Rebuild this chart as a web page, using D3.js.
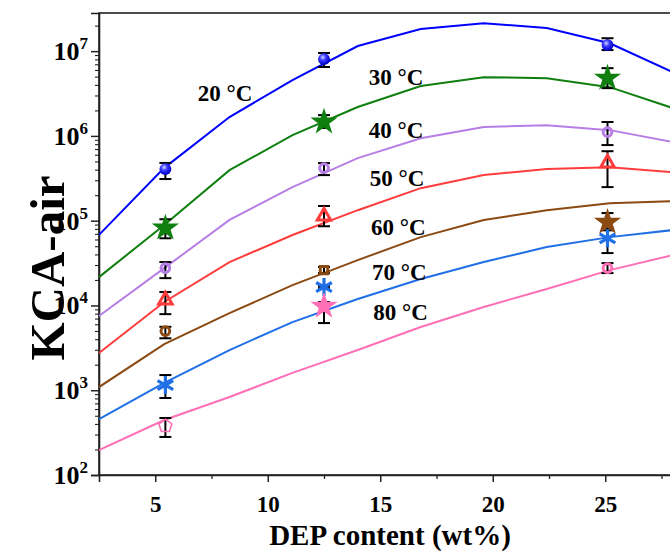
<html>
<meta charset="utf-8" />
<head>
<style>
body { margin: 0; background: #fff; }
svg { display: block; }
svg text { font-family: "Liberation Serif", "Times New Roman", serif; font-weight: bold; fill: #000; }
</style>
<script src="https://cdn.jsdelivr.net/npm/d3@7/dist/d3.min.js"></script>
</head>
<body>
<svg class="chart"></svg>
<script>
var chartWidth = 670;
var chartHeight = 553;

/********
 * Data *
 ********/

var temps = ["20 °C", "30 °C", "40 °C", "50 °C", "60 °C", "70 °C", "80 °C"];

// measured points (DEP wt%)
var depMeasured = [5.45, 12.5, 25.1];
var kMeasured = [
  [4.06e5, 8.05e6, 1.18e7],
  [8.2e4, 1.46e6, 4.81e6],
  [2.76e4, 4.17e5, 1.11e6],
  [1.16e4, 1.13e5, 4.78e5],
  [4.99e3, 2.61e4, 9.6e4],
  [1.15e3, 1.65e4, 6.2e4],
  [378, 9.8e3, 2.76e4]
];
var kErrLow = [
  [3.1e5, 6.5e6, 1.03e7],
  [6.2e4, 1.24e6, 3.66e6],
  [2.1e4, 3.45e5, 7.8e5],
  [7.9e3, 8.6e4, 2.49e5],
  [4.1e3, 2.41e4, 7.7e4],
  [810, 1.6e4, 4.15e4],
  [281, 6.2e3, 2.41e4]
];
var kErrHigh = [
  [4.8e5, 9.5e6, 1.42e7],
  [1.04e5, 1.76e6, 6.3e6],
  [3.25e4, 4.78e5, 1.46e6],
  [1.44e4, 1.49e5, 6.6e5],
  [5.6e3, 2.84e4, 1.23e5],
  [1.51e3, 1.7e4, 8.2e4],
  [470, 1.1e4, 3.16e4]
];

// model curves
var depModel = [2.5, 5.4, 8.3, 11.1, 14.0, 16.8, 19.6, 22.4, 25.2, 28.0];
var kModel = [
  [6.8e4, 4.2e5, 1.67e6, 4.55e6, 1.15e7, 1.82e7, 2.14e7, 1.87e7, 1.24e7, 5.65e6],
  [2.16e4, 8.9e4, 3.95e5, 1.02e6, 2.19e6, 3.87e6, 4.93e6, 4.8e6, 3.76e6, 2.13e6],
  [7.5e3, 2.76e4, 1.02e5, 2.49e5, 5.47e5, 9.4e5, 1.27e6, 1.34e6, 1.17e6, 8.45e5],
  [2.75e3, 1.1e4, 3.25e4, 6.77e4, 1.33e5, 2.42e5, 3.45e5, 4.06e5, 4.28e5, 3.74e5],
  [1.09e3, 3.5e3, 8.1e3, 1.74e4, 3.43e4, 6.4e4, 1.02e5, 1.33e5, 1.61e5, 1.7e5],
  [457, 1.22e3, 2.98e3, 6.37e3, 1.19e4, 2.05e4, 3.25e4, 4.88e4, 6.4e4, 7.75e4],
  [197, 445, 832, 1.6e3, 2.98e3, 5.56e3, 9.6e3, 1.56e4, 2.61e4, 3.93e4]
];

var xTicks = [5, 10, 15, 20, 25];
var yTicks = [1e2, 1e3, 1e4, 1e5, 1e6, 1e7];

/**********
 * Styles *
 **********/

var colors = ["#0000ff", "#0f7f0f", "#b77ee6", "#ff3c3c", "#8b4a12", "#1f6fe6", "#ff6fb5"];
var shapes = [
  ["ball", "ball", "ball"],
  ["star", "star", "star"],
  ["ring", "ring", "ring"],
  ["tri", "tri", "tri"],
  ["ring", "square", "star"],
  ["ast", "ast", "ast"],
  ["penta", "star", "ring"]
];
// label anchor: [dep, k]
var labelPos = [[8.1, 3.2e6], [15.7, 4.95e6], [15.7, 1.17e6], [15.75, 3.19e5], [15.8, 8.4e4], [15.85, 2.48e4], [15.9, 8.4e3]];

/**********
 * Scales *
 **********/

var x = d3.scaleLinear().domain([2.5, 28]).range([99, 672.75]);
var y = d3.scaleLog().domain([100, Math.pow(10, 7.45)]).range([475, 13]);

var svg = d3.select(".chart")
    .attr("width", chartWidth)
    .attr("height", chartHeight);

var defs = svg.append("defs");
defs.append("clipPath").attr("id", "plotclip")
  .append("rect").attr("x", 99).attr("y", 13).attr("width", 580).attr("height", 462);
var grad = defs.append("radialGradient").attr("id", "ballgrad")
    .attr("cx", "40%").attr("cy", "35%").attr("r", "60%");
grad.append("stop").attr("offset", "0%").attr("stop-color", "#cfd6ff");
grad.append("stop").attr("offset", "45%").attr("stop-color", "#3a3aff");
grad.append("stop").attr("offset", "100%").attr("stop-color", "#0000c8");

// frame
svg.append("rect")
    .attr("x", 99).attr("y", 13)
    .attr("width", 672.75 - 99).attr("height", 462)
    .attr("fill", "none").attr("stroke", "#222").attr("stroke-width", 1.6);

/********
 * Axes *
 ********/

var xAxis = d3.axisBottom(x).tickValues(xTicks).tickSize(7).tickFormat(d3.format("d"));
var xAxisG = svg.append("g")
    .attr("transform", "translate(0,475)")
    .call(xAxis);
xAxisG.select(".domain").attr("stroke", "#222").attr("stroke-width", 1.6);
xAxisG.selectAll(".tick line").attr("stroke", "#222").attr("stroke-width", 1.5);
xAxisG.selectAll(".tick text")
    .attr("y", 21).attr("dy", "0.71em")
    .style("font-size", "23px")
    .style("font-family", "Liberation Serif, serif").style("font-weight", "bold");

var xMinor = d3.axisBottom(x).tickValues([7.5, 12.5, 17.5, 22.5, 27.5]).tickSize(4).tickFormat("");
var xMinorG = svg.append("g").attr("transform", "translate(0,475)").call(xMinor);
xMinorG.select(".domain").remove();
xMinorG.selectAll(".tick line").attr("stroke", "#222").attr("stroke-width", 1.3);

var yAxis = d3.axisLeft(y).tickValues(yTicks).tickSize(8).tickFormat("");
var yAxisG = svg.append("g")
    .attr("transform", "translate(99,0)")
    .call(yAxis);
yAxisG.select(".domain").attr("stroke", "#222").attr("stroke-width", 1.6);
yAxisG.selectAll(".tick line").attr("stroke", "#222").attr("stroke-width", 1.5);

var minorY = [];
yTicks.forEach(function(t) {
  for (var m = 2; m <= 9; m++) {
    if (t * m <= y.domain()[1]) minorY.push(t * m);
  }
});
var yMinor = d3.axisLeft(y).tickValues(minorY).tickSize(4).tickFormat("");
var yMinorG = svg.append("g").attr("transform", "translate(99,0)").call(yMinor);
yMinorG.select(".domain").remove();
yMinorG.selectAll(".tick line").attr("stroke", "#222").attr("stroke-width", 1.1);

// y tick labels as 10^n
var yLab = svg.append("g").selectAll("text")
    .data(yTicks)
    .enter().append("text")
    .attr("x", 88)
    .attr("y", function(d) { return y(d) + 9; })
    .attr("text-anchor", "end")
    .style("font-size", "26px");
yLab.append("tspan").text("10");
yLab.append("tspan")
    .attr("dy", -11)
    .style("font-size", "17px")
    .text(function(d) { return Math.round(Math.log10(d)); });

// axis titles
svg.append("text")
    .attr("x", 390).attr("y", 545)
    .attr("text-anchor", "middle")
    .style("font-size", "29px")
    .text("DEP content (wt%)");

svg.append("text")
    .attr("transform", "translate(64,268) rotate(-90)")
    .attr("text-anchor", "middle")
    .style("font-size", "49px")
    .text("KCA-air");

/**********
 * Curves *
 **********/

var plot = svg.append("g").attr("clip-path", "url(#plotclip)");

var line = d3.line()
    .x(function(d) { return x(d[0]); })
    .y(function(d) { return y(d[1]); });

plot.selectAll("path.model")
    .data(kModel)
    .enter().append("path")
    .attr("class", "model")
    .attr("fill", "none")
    .attr("stroke", function(d, i) { return colors[i]; })
    .attr("stroke-width", 2)
    .attr("d", function(d) { return line(depModel.map(function(v, j) { return [v, d[j]]; })); });

/***************
 * Error bars  *
 ***************/

var points = [];
kMeasured.forEach(function(row, i) {
  row.forEach(function(v, j) {
    points.push({ s: i, c: j, x: depMeasured[j], v: v, lo: kErrLow[i][j], hi: kErrHigh[i][j] });
  });
});

var eb = plot.selectAll("g.err")
    .data(points)
    .enter().append("g")
    .attr("class", "err")
    .attr("stroke", "#000")
    .attr("stroke-width", 2);
eb.append("line")
    .attr("x1", function(d) { return x(d.x); }).attr("x2", function(d) { return x(d.x); })
    .attr("y1", function(d) { return y(d.lo); }).attr("y2", function(d) { return y(d.hi); });
eb.append("line")
    .attr("x1", function(d) { return x(d.x) - 6; }).attr("x2", function(d) { return x(d.x) + 6; })
    .attr("y1", function(d) { return y(d.lo); }).attr("y2", function(d) { return y(d.lo); });
eb.append("line")
    .attr("x1", function(d) { return x(d.x) - 6; }).attr("x2", function(d) { return x(d.x) + 6; })
    .attr("y1", function(d) { return y(d.hi); }).attr("y2", function(d) { return y(d.hi); });

/***********
 * Markers *
 ***********/

var pentagon = {
  draw: function(ctx, size) {
    var r = Math.sqrt(size / 2.38);
    for (var k = 0; k < 5; k++) {
      var a = -Math.PI / 2 + k * 2 * Math.PI / 5;
      if (k === 0) ctx.moveTo(r * Math.cos(a), r * Math.sin(a));
      else ctx.lineTo(r * Math.cos(a), r * Math.sin(a));
    }
    ctx.closePath();
  }
};

function markerPath(shape) {
  if (shape === "star") return d3.symbol(d3.symbolStar, 230)();
  if (shape === "tri") return d3.symbol(d3.symbolTriangle2, 130)();
  if (shape === "ring") return d3.symbol(d3.symbolCircle, 60)();
  if (shape === "square") return d3.symbol(d3.symbolSquare2, 70)();
  if (shape === "ast") return d3.symbol(d3.symbolAsterisk, 230)();
  if (shape === "penta") return d3.symbol(pentagon, 110)();
  return d3.symbol(d3.symbolCircle, 110)();
}

plot.selectAll("path.mark")
    .data(points)
    .enter().append("path")
    .attr("class", "mark")
    .attr("transform", function(d) { return "translate(" + x(d.x) + "," + y(d.v) + ")"; })
    .attr("d", function(d) { return markerPath(shapes[d.s][d.c]); })
    .attr("fill", function(d) {
      var sh = shapes[d.s][d.c];
      if (sh === "ball") return "url(#ballgrad)";
      if (sh === "star") return colors[d.s];
      return "none";
    })
    .attr("stroke", function(d) {
      var sh = shapes[d.s][d.c];
      if (sh === "ball" || sh === "star") return "none";
      return colors[d.s];
    })
    .attr("stroke-width", function(d) {
      var sh = shapes[d.s][d.c];
      return sh === "ast" ? 3.2 : (sh === "penta" ? 1.6 : 3);
    });

/**********
 * Labels *
 **********/

svg.append("g").selectAll("text")
    .data(temps)
    .enter().append("text")
    .attr("x", function(d, i) { return x(labelPos[i][0]); })
    .attr("y", function(d, i) { return y(labelPos[i][1]); })
    .attr("text-anchor", "middle")
    .attr("dy", "0.35em")
    .style("font-size", "23px")
    .text(function(d) { return d; });

</script>
</body>
</html>
